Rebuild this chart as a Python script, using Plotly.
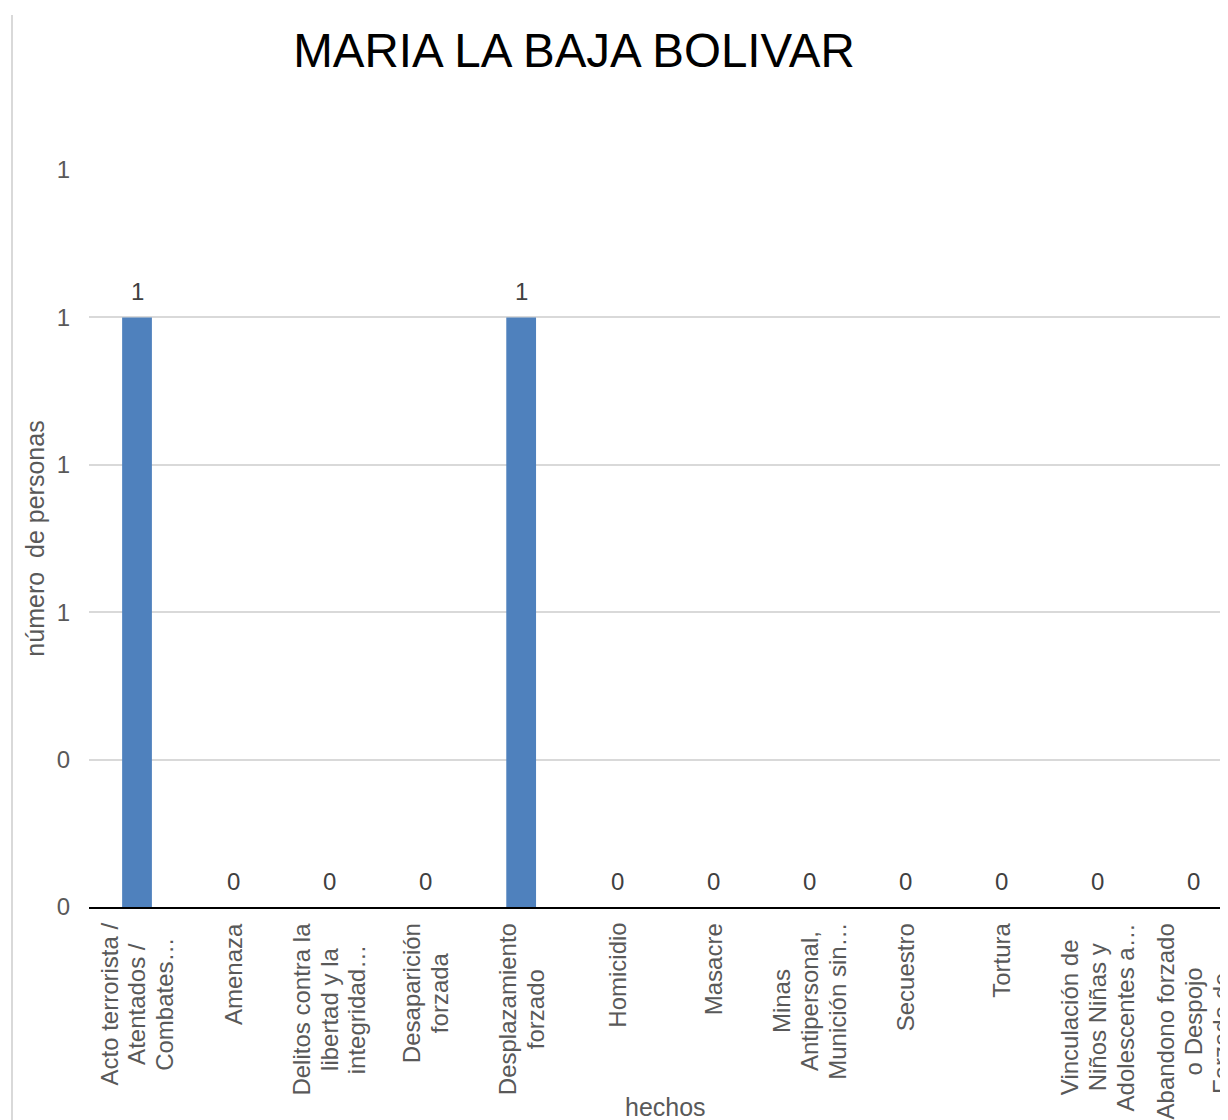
import plotly.graph_objects as go

# Datos del gráfico
hechos = [
    "Acto terrorista /<br>Atentados /<br>Combates…",
    "Amenaza",
    "Delitos contra la<br>libertad y la<br>integridad…",
    "Desaparición<br>forzada",
    "Desplazamiento<br>forzado",
    "Homicidio",
    "Masacre",
    "Minas<br>Antipersonal,<br>Munición sin…",
    "Secuestro",
    "Tortura",
    "Vinculación de<br>Niños Niñas y<br>Adolescentes a…",
    "Abandono forzado<br>o Despojo<br>Forzado de…",
]
personas = [1, 0, 0, 0, 1, 0, 0, 0, 0, 0, 0, 0]
y_ticks = [0, 0.25, 0.5, 0.75, 1.0, 1.25]
y_ticktext = ["0", "0", "1", "1", "1", "1"]

FONT = "Liberation Sans, Arial, sans-serif"
GRIS = "#595959"

# la página tiene un margen de 8px alrededor del gráfico
W, H = 1220, 1112

fig = go.Figure()
fig.add_trace(go.Bar(
    x=hechos,
    y=personas,
    width=0.31,
    marker=dict(color="#4f81bd", line=dict(width=0)),
    hoverinfo="x+y",
))

# Etiquetas de datos sobre cada barra
annotations = []
for h, v in zip(hechos, personas):
    annotations.append(dict(
        x=h, y=v, xref="x", yref="y",
        text=str(v), showarrow=False,
        yanchor="bottom", yshift=10,
        font=dict(family=FONT, size=24, color="#404040"),
    ))

# Etiquetas de categoría rotadas y centradas
# (fuente base más pequeña para que el interlineado sea más apretado)
for h in hechos:
    texto = "<br>".join(
        f"<span style='font-size:24px'>{linea}</span>" for linea in h.split("<br>")
    )
    annotations.append(dict(
        x=h, y=0, xref="x", yref="paper",
        text=texto, showarrow=False, textangle=-90,
        align="center", xanchor="center", yanchor="top", yshift=-14,
        font=dict(family=FONT, size=21.5, color=GRIS),
    ))

# Título del eje x
annotations.append(dict(
    x=(657 - 81) / 1139, y=0, xref="paper", yref="paper",
    text="hechos", showarrow=False, yanchor="middle", yshift=-200,
    font=dict(family=FONT, size=25, color=GRIS),
))

fig.update_layout(
    width=W,
    height=H,
    margin=dict(l=81, r=0, t=162, b=213),
    paper_bgcolor="white",
    plot_bgcolor="white",
    showlegend=False,
    title=dict(
        text="MARIA LA BAJA BOLIVAR",
        x=566 / W, xanchor="center", xref="container",
        y=1 - 42 / H, yanchor="middle", yref="container",
        font=dict(family=FONT, size=47.5, color="#000000"),
    ),
    xaxis=dict(
        range=[-0.5, 11.36],
        showticklabels=False,
        showgrid=False,
        showline=True, linecolor="#000000", linewidth=2,
        ticks="",
        fixedrange=True,
    ),
    yaxis=dict(
        range=[0, 1.25],
        tickvals=y_ticks,
        ticktext=y_ticktext,
        tickfont=dict(family=FONT, size=24, color=GRIS),
        ticklabelstandoff=18,
        showgrid=True, gridcolor="#d9d9d9", gridwidth=1.5,
        zeroline=False, showline=False, ticks="",
        title=dict(text="número  de personas", standoff=4,
                   font=dict(family=FONT, size=25, color=GRIS)),
        fixedrange=True,
    ),
    annotations=annotations,
    shapes=[dict(
        type="line", xref="paper", yref="paper",
        xsizemode="pixel", xanchor=0, x0=-77, x1=-77,
        ysizemode="pixel", yanchor=1, y0=-1000, y1=155,
        line=dict(color="#d9d9d9", width=2),
    )],
)

fig.write_html("out.html")
